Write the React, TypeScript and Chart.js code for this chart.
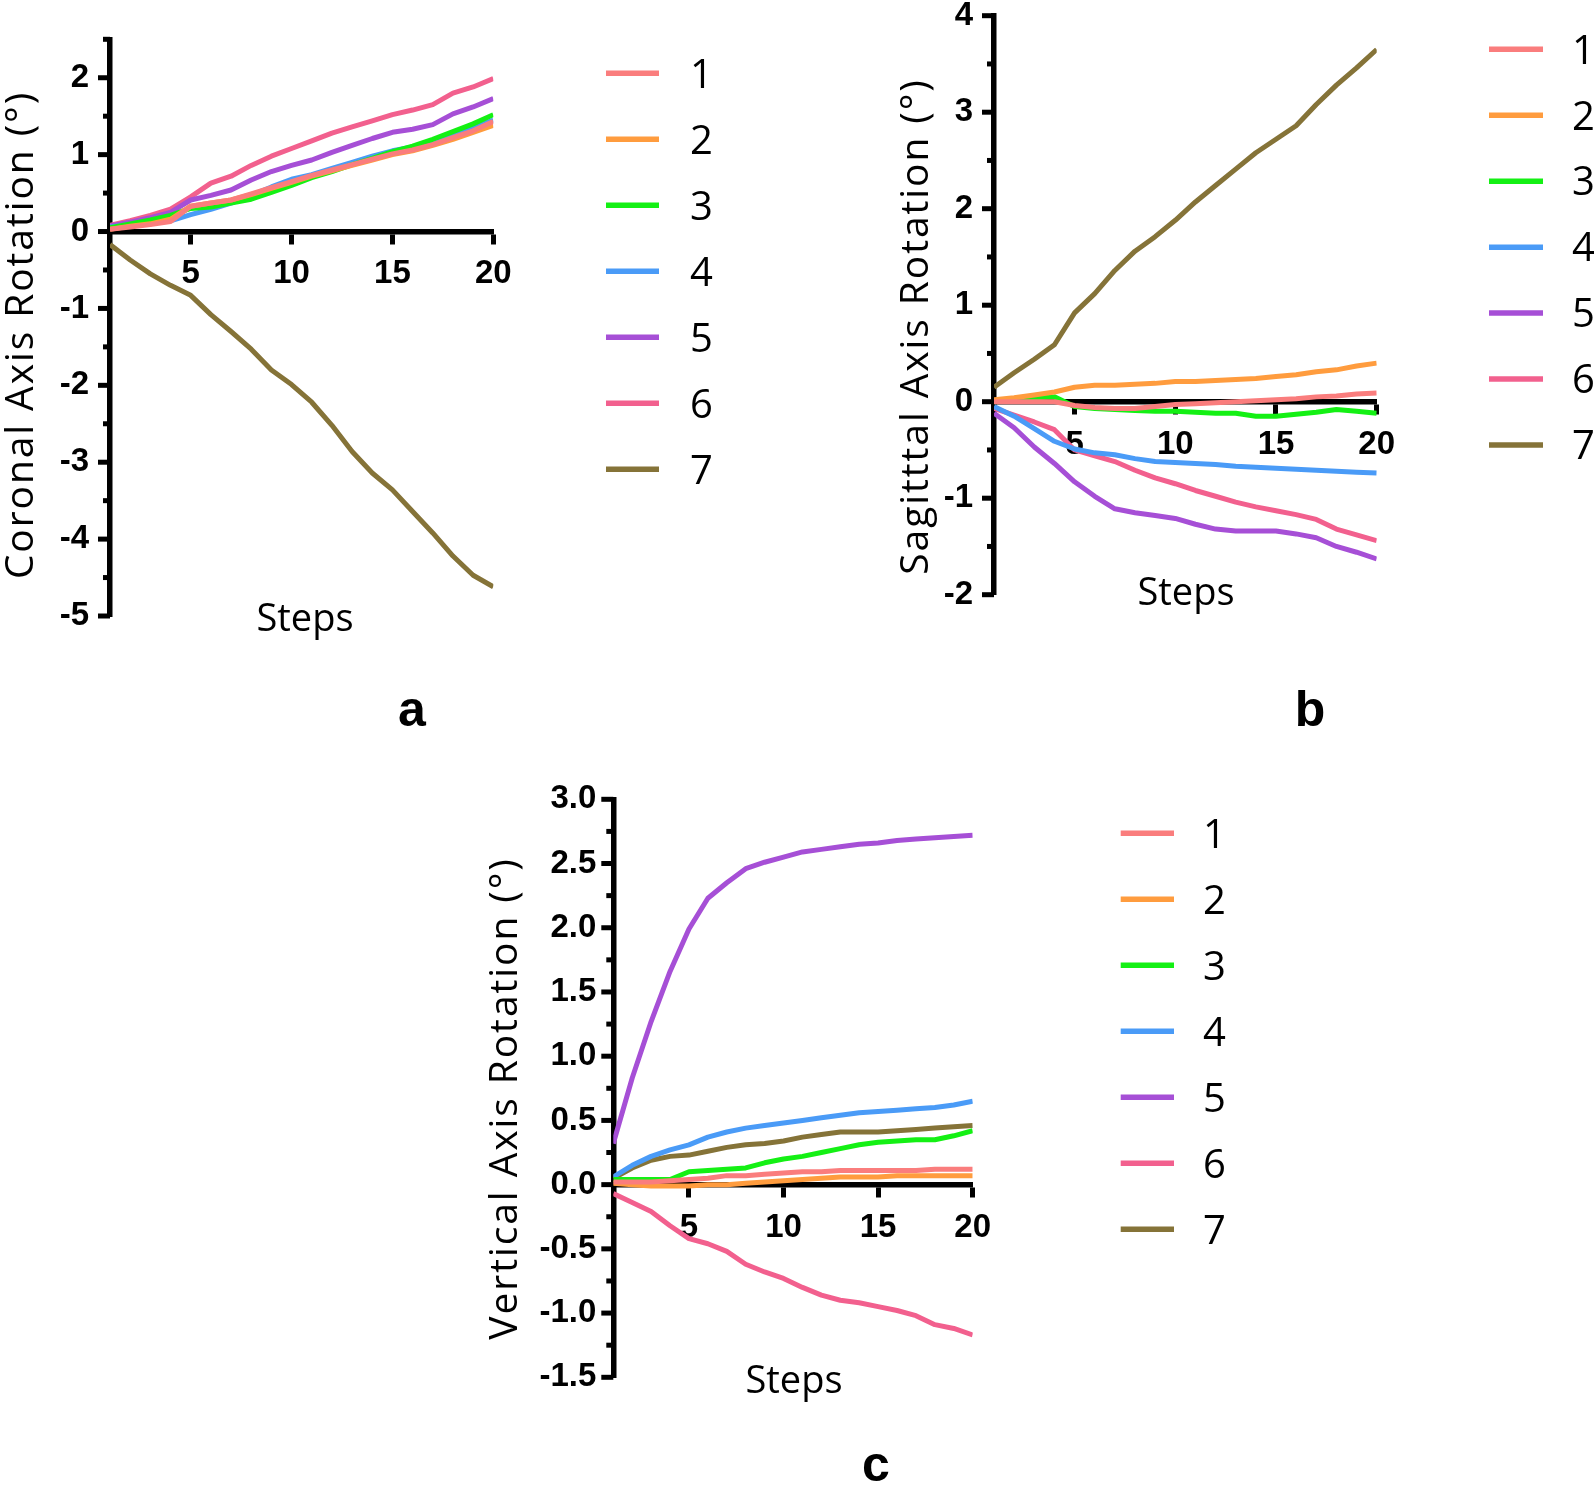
import React, { useEffect, useRef } from 'react';
import { Chart, registerables } from 'chart.js';

Chart.register(...registerables);

// ---------------- data ----------------
const steps = [1, 2, 3, 4, 5, 6, 7, 8, 9, 10, 11, 12, 13, 14, 15, 16, 17, 18, 19, 20];
const seriesLabels = ['1', '2', '3', '4', '5', '6', '7'];
const seriesColors = ['#FA7D7D', '#FF9C3E', '#14F014', '#4A9BF7', '#A64FD6', '#F2608E', '#857338'];
const xTickValues = [5, 10, 15, 20];

// Panel a: coronal axis rotation
const coronal1 = [0.03, 0.06, 0.09, 0.13, 0.33, 0.37, 0.41, 0.49, 0.57, 0.65, 0.73, 0.80, 0.87, 0.94, 1.01, 1.06, 1.13, 1.22, 1.31, 1.43];
const coronal2 = [0.03, 0.07, 0.10, 0.16, 0.33, 0.37, 0.41, 0.48, 0.56, 0.64, 0.72, 0.79, 0.86, 0.93, 1.00, 1.05, 1.12, 1.20, 1.29, 1.38];
const coronal3 = [0.05, 0.10, 0.15, 0.21, 0.30, 0.32, 0.37, 0.42, 0.51, 0.60, 0.70, 0.78, 0.87, 0.95, 1.04, 1.11, 1.20, 1.30, 1.40, 1.52];
const coronal4 = [0.06, 0.09, 0.12, 0.14, 0.22, 0.29, 0.37, 0.47, 0.58, 0.68, 0.74, 0.82, 0.90, 0.98, 1.05, 1.10, 1.17, 1.26, 1.35, 1.45];
const coronal5 = [0.07, 0.12, 0.18, 0.25, 0.41, 0.47, 0.54, 0.67, 0.78, 0.86, 0.93, 1.03, 1.12, 1.21, 1.29, 1.33, 1.39, 1.53, 1.62, 1.73];
const coronal6 = [0.08, 0.14, 0.21, 0.29, 0.45, 0.63, 0.72, 0.86, 0.98, 1.08, 1.18, 1.28, 1.36, 1.44, 1.52, 1.58, 1.65, 1.80, 1.88, 1.99];
const coronal7 = [-0.17, -0.37, -0.55, -0.70, -0.83, -1.08, -1.30, -1.53, -1.80, -1.99, -2.22, -2.52, -2.86, -3.14, -3.36, -3.64, -3.92, -4.22, -4.47, -4.62];

// Panel b: sagittal axis rotation
const sagittal1 = [0.0, 0.0, 0.0, 0.0, -0.04, -0.06, -0.07, -0.07, -0.05, -0.03, -0.02, -0.01, 0.0, 0.01, 0.02, 0.03, 0.05, 0.06, 0.08, 0.09];
const sagittal2 = [0.02, 0.04, 0.07, 0.10, 0.15, 0.17, 0.17, 0.18, 0.19, 0.21, 0.21, 0.22, 0.23, 0.24, 0.26, 0.28, 0.31, 0.33, 0.37, 0.40];
const sagittal3 = [0.0, 0.02, 0.04, 0.05, -0.05, -0.07, -0.08, -0.09, -0.10, -0.10, -0.11, -0.12, -0.12, -0.15, -0.15, -0.13, -0.11, -0.08, -0.10, -0.12];
const sagittal4 = [-0.05, -0.15, -0.28, -0.41, -0.49, -0.53, -0.55, -0.59, -0.62, -0.63, -0.64, -0.65, -0.67, -0.68, -0.69, -0.70, -0.71, -0.72, -0.73, -0.74];
const sagittal5 = [-0.12, -0.27, -0.47, -0.64, -0.83, -0.98, -1.11, -1.15, -1.18, -1.21, -1.27, -1.32, -1.34, -1.34, -1.34, -1.37, -1.41, -1.50, -1.56, -1.63];
const sagittal6 = [-0.07, -0.14, -0.21, -0.29, -0.50, -0.56, -0.62, -0.71, -0.79, -0.85, -0.92, -0.98, -1.04, -1.09, -1.13, -1.17, -1.22, -1.32, -1.38, -1.44];
const sagittal7 = [0.15, 0.30, 0.44, 0.59, 0.92, 1.12, 1.36, 1.56, 1.71, 1.88, 2.07, 2.24, 2.41, 2.58, 2.72, 2.86, 3.08, 3.28, 3.46, 3.65];

// Panel c: vertical axis rotation
const vertical1 = [0.02, 0.02, 0.02, 0.03, 0.04, 0.05, 0.07, 0.07, 0.08, 0.09, 0.10, 0.10, 0.11, 0.11, 0.11, 0.11, 0.11, 0.12, 0.12, 0.12];
const vertical2 = [0.01, 0.0, -0.01, -0.01, -0.01, 0.0, 0.0, 0.01, 0.02, 0.03, 0.04, 0.05, 0.06, 0.06, 0.06, 0.07, 0.07, 0.07, 0.07, 0.07];
const vertical3 = [0.04, 0.04, 0.04, 0.04, 0.10, 0.11, 0.12, 0.13, 0.17, 0.20, 0.22, 0.25, 0.28, 0.31, 0.33, 0.34, 0.35, 0.35, 0.38, 0.42];
const vertical4 = [0.06, 0.15, 0.22, 0.27, 0.31, 0.37, 0.41, 0.44, 0.46, 0.48, 0.50, 0.52, 0.54, 0.56, 0.57, 0.58, 0.59, 0.60, 0.62, 0.65];
const vertical5 = [0.32, 0.83, 1.27, 1.66, 1.99, 2.23, 2.35, 2.46, 2.51, 2.55, 2.59, 2.61, 2.63, 2.65, 2.66, 2.68, 2.69, 2.70, 2.71, 2.72];
const vertical6 = [-0.07, -0.14, -0.21, -0.32, -0.42, -0.46, -0.52, -0.62, -0.68, -0.73, -0.80, -0.86, -0.90, -0.92, -0.95, -0.98, -1.02, -1.09, -1.12, -1.17];
const vertical7 = [0.05, 0.13, 0.19, 0.22, 0.23, 0.26, 0.29, 0.31, 0.32, 0.34, 0.37, 0.39, 0.41, 0.41, 0.41, 0.42, 0.43, 0.44, 0.45, 0.46];

// y tick values and labels
const coronalTicks = [-5, -4.5, -4, -3.5, -3, -2.5, -2, -1.5, -1, -0.5, 0, 0.5, 1, 1.5, 2, 2.5];
const coronalTickLabels = ['-5', '', '-4', '', '-3', '', '-2', '', '-1', '', '0', '', '1', '', '2', ''];
const sagittalTicks = [-2, -1.5, -1, -0.5, 0, 0.5, 1, 1.5, 2, 2.5, 3, 3.5, 4];
const sagittalTickLabels = ['-2', '', '-1', '', '0', '', '1', '', '2', '', '3', '', '4'];
const verticalTicks = [-1.5, -1.25, -1, -0.75, -0.5, -0.25, 0, 0.25, 0.5, 0.75, 1, 1.25, 1.5, 1.75, 2, 2.25, 2.5, 2.75, 3];
const verticalTickLabels = ['-1.5', '', '-1.0', '', '-0.5', '', '0.0', '', '0.5', '', '1.0', '', '1.5', '', '2.0', '', '2.5', '', '3.0'];

// ---------------- layout (page coordinates) ----------------
const Y_AXIS_W = 100;
const TICK_FONT = '"Liberation Sans", Arial, sans-serif';
const TEXT_FONT = '"Open Sans", sans-serif';

type Panel = {
  key: string;
  canvas: { left: number; top: number; width: number; height: number };
  area: { left: number; right: number; top: number; bottom: number };
  yMin: number; yMax: number;
  yTicks: number[]; yTickLabels: string[]; yLabelPad: number;
  series: number[][];
  yTitle: string; yTitleX: number; yTitleY: number;
  stepsX: number; stepsY: number;
  legend: { x1: number; x2: number; textX: number; y0: number; dy: number };
};

const panels: Panel[] = [
  {
    key: 'a',
    canvas: { left: 0, top: 0, width: 800, height: 680 },
    area: { left: 110, right: 493.3, top: 39.3, bottom: 616 },
    yMin: -5, yMax: 2.5, yTicks: coronalTicks, yTickLabels: coronalTickLabels, yLabelPad: 9,
    series: [coronal1, coronal2, coronal3, coronal4, coronal5, coronal6, coronal7],
    yTitle: 'Coronal Axis Rotation (°)', yTitleX: 33, yTitleY: 335,
    stepsX: 305, stepsY: 631,
    legend: { x1: 606, x2: 659, textX: 690, y0: 73.3, dy: 66 },
  },
  {
    key: 'b',
    canvas: { left: 860, top: 0, width: 734, height: 660 },
    area: { left: 994, right: 1376.7, top: 15.7, bottom: 594.7 },
    yMin: -2, yMax: 4, yTicks: sagittalTicks, yTickLabels: sagittalTickLabels, yLabelPad: 9,
    series: [sagittal1, sagittal2, sagittal3, sagittal4, sagittal5, sagittal6, sagittal7],
    yTitle: 'Sagitttal Axis Rotation (°)', yTitleX: 928, yTitleY: 326.5,
    stepsX: 1186, stepsY: 605,
    legend: { x1: 1489, x2: 1543, textX: 1572, y0: 49.3, dy: 65.95 },
  },
  {
    key: 'c',
    canvas: { left: 440, top: 760, width: 860, height: 700 },
    area: { left: 613.3, right: 972.7, top: 799.3, bottom: 1377.3 },
    yMin: -1.5, yMax: 3, yTicks: verticalTicks, yTickLabels: verticalTickLabels, yLabelPad: 5,
    series: [vertical1, vertical2, vertical3, vertical4, vertical5, vertical6, vertical7],
    yTitle: 'Vertical Axis Rotation (°)', yTitleX: 517, yTitleY: 1098.5,
    stepsX: 794, stepsY: 1393,
    legend: { x1: 1120.7, x2: 1174, textX: 1203, y0: 833.3, dy: 66 },
  },
];

const panelLetters = [
  { text: 'a', cx: 412, baseline: 726 },
  { text: 'b', cx: 1310, baseline: 726 },
  { text: 'c', cx: 876, baseline: 1481 },
];

// ---------------- plugin: minor/major y ticks, titles, legend ----------------
const decorPlugin = {
  id: 'panelDecor',
  beforeDatasetsDraw(chart: any, _args: any, o: any) {
    const ys = chart.scales.y;
    const ctx = chart.ctx;
    const left = chart.chartArea.left;
    ctx.save();
    ctx.strokeStyle = '#000';
    ctx.lineWidth = o.tickWidth;
    ctx.lineCap = 'butt';
    ys.ticks.forEach((t: any) => {
      const py = ys.getPixelForValue(t.value);
      const len = t.label ? o.majorTick : o.minorTick;
      ctx.beginPath();
      ctx.moveTo(left - len, py);
      ctx.lineTo(left, py);
      ctx.stroke();
    });
    ctx.restore();
  },
  afterDraw(chart: any, _args: any, o: any) {
    const ctx = chart.ctx;
    // y axis title
    ctx.save();
    ctx.fillStyle = '#000';
    ctx.font = `${o.titleSize}px ${TEXT_FONT}`;
    ctx.letterSpacing = `${o.titleSpacing}px`;
    ctx.textAlign = 'center';
    ctx.textBaseline = 'alphabetic';
    ctx.translate(o.yTitleX, o.yTitleY);
    ctx.rotate(-Math.PI / 2);
    ctx.fillText(o.yTitle, 0, 0);
    ctx.restore();
    // x axis title
    ctx.save();
    ctx.fillStyle = '#000';
    ctx.font = `${o.stepsSize}px ${TEXT_FONT}`;
    ctx.textAlign = 'center';
    ctx.textBaseline = 'alphabetic';
    ctx.fillText(o.xTitle, o.stepsX, o.stepsY);
    ctx.restore();
    // legend
    ctx.save();
    ctx.font = `${o.legendSize}px ${TEXT_FONT}`;
    ctx.textAlign = 'left';
    ctx.textBaseline = 'alphabetic';
    ctx.fillStyle = '#000';
    chart.data.datasets.forEach((ds: any, i: number) => {
      const y = o.legend.y0 + i * o.legend.dy;
      ctx.strokeStyle = ds.borderColor;
      ctx.lineWidth = o.legendLineWidth;
      ctx.lineCap = 'butt';
      ctx.beginPath();
      ctx.moveTo(o.legend.x1, y);
      ctx.lineTo(o.legend.x2, y);
      ctx.stroke();
      ctx.fillText(ds.label, o.legend.textX, y + o.legendSize * 0.357);
    });
    ctx.restore();
  },
};

function PanelChart({ p }: { p: Panel }) {
  const ref = useRef<HTMLCanvasElement>(null);
  useEffect(() => {
    if (!ref.current) return;
    const c = p.canvas;
    const ox = c.left;
    const oy = c.top;
    const padding = {
      left: p.area.left - ox - Y_AXIS_W,
      right: ox + c.width - p.area.right,
      top: p.area.top - oy,
      bottom: oy + c.height - p.area.bottom,
    };
    const tickFont = { family: TICK_FONT, size: 33, weight: 'bold' as const };
    const datasets = p.series.map((vals, i) => ({
      label: seriesLabels[i],
      data: vals.map((v, j) => ({ x: steps[j], y: v })),
      borderColor: seriesColors[i],
      backgroundColor: seriesColors[i],
      borderWidth: 5,
      pointRadius: 0,
      pointHoverRadius: 0,
      tension: 0,
      fill: false,
      borderJoinStyle: 'round' as const,
    }));
    const zeroPad = (s: any) => {
      s.paddingLeft = 0;
      s.paddingRight = 0;
      s.paddingTop = 0;
      s.paddingBottom = 0;
    };
    const chart = new Chart(ref.current, {
      type: 'line',
      data: { datasets },
      plugins: [decorPlugin],
      options: {
        animation: false,
        responsive: false,
        devicePixelRatio: 1,
        events: [],
        layout: { padding },
        plugins: {
          legend: { display: false },
          tooltip: { enabled: false },
          title: { display: false },
          panelDecor: {
            tickWidth: 5,
            majorTick: 12,
            minorTick: 7,
            titleSize: 39,
            titleSpacing: 1.9,
            yTitle: p.yTitle,
            yTitleX: p.yTitleX - ox,
            yTitleY: p.yTitleY - oy,
            xTitle: 'Steps',
            stepsSize: 38,
            stepsX: p.stepsX - ox,
            stepsY: p.stepsY - oy,
            legendSize: 40,
            legendLineWidth: 5.5,
            legend: {
              x1: p.legend.x1 - ox,
              x2: p.legend.x2 - ox,
              textX: p.legend.textX - ox,
              y0: p.legend.y0 - oy,
              dy: p.legend.dy,
            },
          },
        } as any,
        scales: {
          x: {
            type: 'linear',
            min: steps[0],
            max: steps[steps.length - 1],
            position: { y: 0 } as any,
            afterBuildTicks: (s: any) => {
              s.ticks = xTickValues.map((v) => ({ value: v }));
            },
            afterFit: zeroPad,
            grid: {
              drawOnChartArea: false,
              drawTicks: true,
              tickLength: 10,
              tickWidth: 5,
              tickColor: '#000',
            },
            border: { display: true, color: '#000', width: 5.5 },
            ticks: {
              color: '#000',
              font: tickFont,
              padding: 13,
              maxRotation: 0,
              minRotation: 0,
              autoSkip: false,
              callback: (v: any) => String(v),
            },
          },
          y: {
            type: 'linear',
            min: p.yMin,
            max: p.yMax,
            position: 'left',
            afterBuildTicks: (s: any) => {
              s.ticks = p.yTicks.map((v) => ({ value: v }));
            },
            afterFit: (s: any) => {
              s.width = Y_AXIS_W;
              zeroPad(s);
            },
            grid: {
              drawOnChartArea: false,
              drawTicks: true,
              tickLength: 12,
              tickColor: 'rgba(0,0,0,0)',
            },
            border: { display: true, color: '#000', width: 5.5 },
            ticks: {
              color: '#000',
              font: tickFont,
              padding: p.yLabelPad,
              autoSkip: false,
              callback: (_v: any, i: number) => p.yTickLabels[i],
            },
          },
        },
      },
    });
    return () => chart.destroy();
  }, [p]);
  const c = p.canvas;
  return (
    <canvas
      ref={ref}
      width={c.width}
      height={c.height}
      style={{ position: 'absolute', left: c.left, top: c.top, width: c.width, height: c.height }}
    />
  );
}

export default function App() {
  return (
    <div
      style={{
        position: 'absolute',
        left: 0,
        top: 0,
        width: 1594,
        height: 1488,
        background: '#fff',
        overflow: 'hidden',
      }}
    >
      {panels.map((p) => (
        <PanelChart key={p.key} p={p} />
      ))}
      {panelLetters.map((l) => (
        <div
          key={l.text}
          style={{
            position: 'absolute',
            left: l.cx - 50,
            width: 100,
            top: l.baseline - 42.3,
            textAlign: 'center',
            fontFamily: TICK_FONT,
            fontWeight: 'bold',
            fontSize: 50,
            lineHeight: '50px',
            color: '#000',
          }}
        >
          {l.text}
        </div>
      ))}
    </div>
  );
}
